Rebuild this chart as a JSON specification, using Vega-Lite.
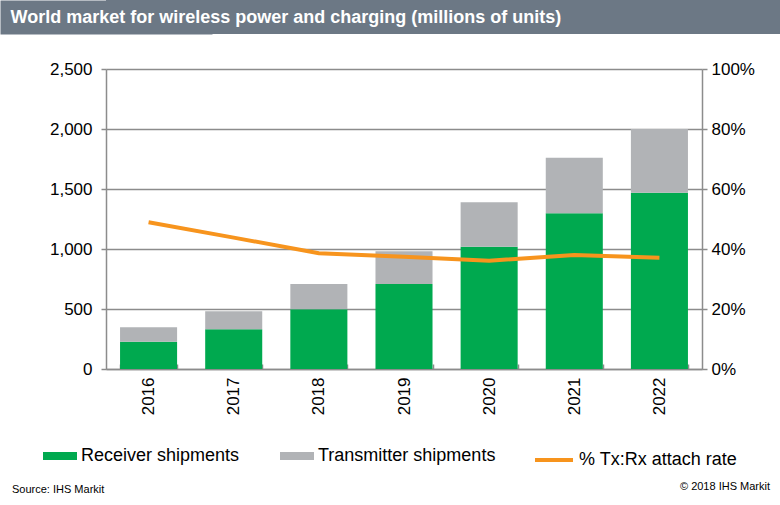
{
  "$schema": "https://vega.github.io/schema/vega-lite/v6.json",
  "background": "white",
  "padding": 0,
  "spacing": 26,
  "config": {
    "font": "Liberation Sans",
    "view": {"stroke": null},
    "axis": {"labelColor": "#000000", "labelFont": "Liberation Sans", "domainColor": "#8c8c8c", "tickColor": "#8c8c8c", "gridColor": "#8c8c8c", "domainWidth": 1.5, "tickWidth": 1.5, "gridWidth": 1.5}
  },
  "datasets": {
    "bars": [
      {"year": "2016", "series": "Receiver shipments", "value": 228},
      {"year": "2016", "series": "Transmitter shipments", "value": 119},
      {"year": "2017", "series": "Receiver shipments", "value": 331},
      {"year": "2017", "series": "Transmitter shipments", "value": 150},
      {"year": "2018", "series": "Receiver shipments", "value": 497},
      {"year": "2018", "series": "Transmitter shipments", "value": 211},
      {"year": "2019", "series": "Receiver shipments", "value": 708},
      {"year": "2019", "series": "Transmitter shipments", "value": 273},
      {"year": "2020", "series": "Receiver shipments", "value": 1019},
      {"year": "2020", "series": "Transmitter shipments", "value": 370},
      {"year": "2021", "series": "Receiver shipments", "value": 1297},
      {"year": "2021", "series": "Transmitter shipments", "value": 464},
      {"year": "2022", "series": "Receiver shipments", "value": 1469},
      {"year": "2022", "series": "Transmitter shipments", "value": 531}
    ],
    "rate": [
      {"year": "2016", "series": "% Tx:Rx attach rate", "rate": 0.489},
      {"year": "2017", "series": "% Tx:Rx attach rate", "rate": 0.438},
      {"year": "2018", "series": "% Tx:Rx attach rate", "rate": 0.386},
      {"year": "2019", "series": "% Tx:Rx attach rate", "rate": 0.374},
      {"year": "2020", "series": "% Tx:Rx attach rate", "rate": 0.361},
      {"year": "2021", "series": "% Tx:Rx attach rate", "rate": 0.380},
      {"year": "2022", "series": "% Tx:Rx attach rate", "rate": 0.371}
    ],
    "one": [{}]
  },
  "vconcat": [
    {
      "data": {"name": "one"},
      "width": 674,
      "height": 34,
      "view": {"fill": "#6c7885", "stroke": null},
      "mark": {"type": "text", "text": ""},
      "encoding": {
        "y": {
          "datum": 0.5, "type": "quantitative", "scale": {"domain": [0, 1]},
          "axis": {
            "orient": "left", "labels": false, "ticks": false, "grid": false,
            "domainWidth": 212, "domainColor": "#6c7885", "domainCap": "butt",
            "title": "World market for wireless power and charging (millions of units)",
            "titleAngle": 0, "titleAlign": "left", "titleBaseline": "middle",
            "titleX": -96, "titleY": 17, "titleColor": "#ffffff",
            "titleFont": "Liberation Sans", "titleFontSize": 18, "titleFontWeight": "bold"
          }
        }
      }
    },
    {
      "width": 596,
      "height": 300,
      "layer": [
        {
          "data": {"name": "bars"},
          "mark": {"type": "bar"},
          "encoding": {
            "x": {
              "field": "year", "type": "nominal", "title": null,
              "scale": {"paddingInner": 0.33, "paddingOuter": 0.165},
              "axis": {"labelAngle": -90, "labelFontSize": 17, "labelPadding": 13, "tickSize": -5, "tickBand": "extent", "domainColor": "#8c8c8c"}
            },
            "y": {
              "field": "value", "type": "quantitative", "title": null, "stack": "zero",
              "scale": {"domain": [0, 2500]},
              "axis": {"values": [0, 500, 1000, 1500, 2000, 2500], "format": ",d", "labelFontSize": 17, "labelPadding": 9, "tickSize": 5, "grid": true, "minExtent": 106, "maxExtent": 106}
            },
            "order": {"field": "series", "sort": "ascending"},
            "color": {
              "field": "series", "type": "nominal",
              "scale": {"domain": ["Receiver shipments", "Transmitter shipments"], "range": ["#00a94f", "#b1b3b6"]},
              "legend": {"title": null, "orient": "none", "legendX": -63, "legendY": 439, "direction": "horizontal", "labelFontSize": 18, "labelColor": "#000000", "symbolType": "M-1,-0.235H1V0.235H-1Z", "symbolSize": 1156, "symbolStrokeWidth": 0, "labelOffset": 4, "columnPadding": 40, "labelLimit": 300}
            }
          }
        },
        {
          "data": {"name": "rate"},
          "mark": {"type": "line", "strokeWidth": 4},
          "encoding": {
            "x": {"field": "year", "type": "nominal"},
            "y": {
              "field": "rate", "type": "quantitative", "title": null,
              "scale": {"domain": [0, 1]},
              "axis": {"orient": "right", "values": [0, 0.2, 0.4, 0.6, 0.8, 1], "format": ".0%", "labelFontSize": 17, "labelPadding": 4, "tickSize": 5, "grid": false}
            },
            "stroke": {
              "field": "series", "type": "nominal",
              "scale": {"range": ["#f7941d"]},
              "legend": {"title": null, "orient": "none", "legendX": 427, "legendY": 439, "labelFontSize": 18, "labelColor": "#000000", "symbolType": "stroke", "symbolSize": 1444, "symbolStrokeWidth": 4, "labelOffset": 4, "labelLimit": 300}
            }
          }
        }
      ],
      "resolve": {"scale": {"y": "independent"}}
    },
    {
      "data": {"name": "one"},
      "width": 674,
      "height": 50,
      "layer": [
        {
          "mark": {"type": "text", "align": "left", "baseline": "middle", "dx": -94, "fontSize": 11, "color": "#000000"},
          "encoding": {
            "x": {"datum": 0, "type": "quantitative", "scale": {"domain": [0, 1]}, "axis": null},
            "y": {"datum": 0.03, "type": "quantitative", "scale": {"domain": [0, 1]}, "axis": null},
            "text": {"value": "Source: IHS Markit"}
          }
        },
        {
          "mark": {"type": "text", "align": "right", "baseline": "middle", "dx": -10, "dy": -3, "fontSize": 11, "color": "#000000"},
          "encoding": {
            "x": {"datum": 1, "type": "quantitative", "scale": {"domain": [0, 1]}, "axis": null},
            "y": {"datum": 0.03, "type": "quantitative", "scale": {"domain": [0, 1]}, "axis": null},
            "text": {"value": "© 2018 IHS Markit"}
          }
        }
      ]
    }
  ]
}
